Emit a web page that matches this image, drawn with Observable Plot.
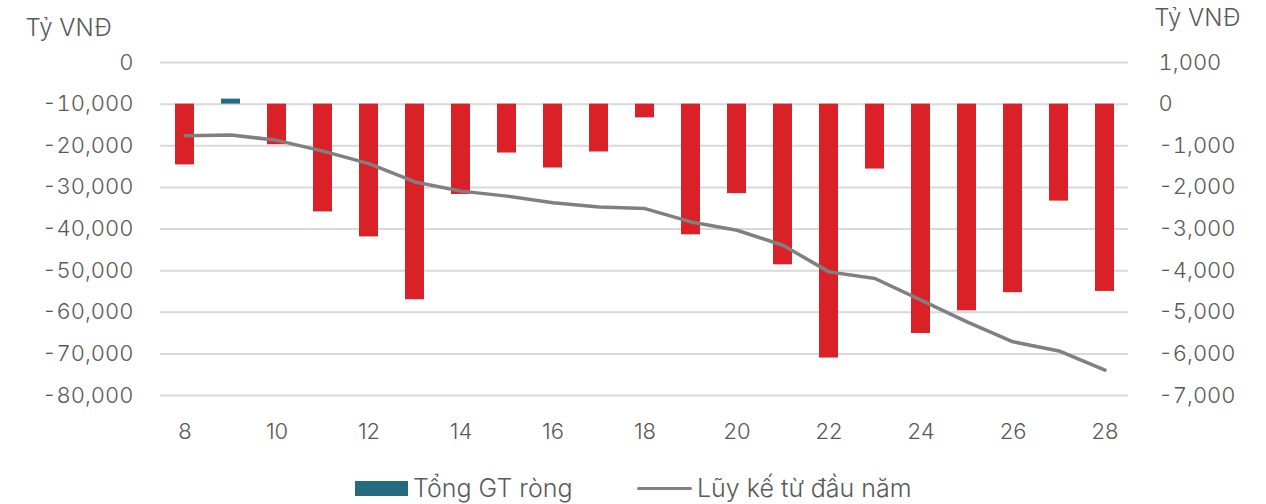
<!DOCTYPE html>
<html>
<head>
<meta charset="utf-8">
<script src="https://cdn.jsdelivr.net/npm/d3@7"></script>
<script src="https://cdn.jsdelivr.net/npm/@observablehq/plot@0.6"></script>
<style>
  html, body { margin: 0; padding: 0; background: #fff; }
  body { width: 1266px; height: 504px; overflow: hidden; font-family: Inter, "DejaVu Sans", sans-serif; font-weight: 300; color: #595959; }
  #legend { position: relative; height: 44px; width: 1266px; font-size: 25px; }
  .item { position: absolute; top: 6px; height: 44px; display: flex; align-items: center; }
  .sw-bar { width: 53px; height: 15px; background: #256b80; margin-right: 5px; }
  .sw-line { width: 55px; height: 3px; background: #808080; margin-right: 5px; border-radius: 2px; }
</style>
</head>
<body>
<div id="chart"></div>
<div id="legend">
  <div class="item" style="left:355px"><div class="sw-bar"></div><span>Tổng GT ròng</span></div>
  <div class="item" style="left:637px"><div class="sw-line"></div><span>Lũy kế từ đầu năm</span></div>
</div>
<script>
// Days of the month
const days = [8, 9, 10, 11, 12, 13, 14, 15, 16, 17, 18, 19, 20, 21, 22, 23, 24, 25, 26, 27, 28];
// Daily net value (tỷ VNĐ, right axis)
const netValues = [-1460, 120, -975, -2590, -3190, -4700, -2170, -1175, -1535, -1150, -330, -3140, -2150, -3860, -6100, -1560, -5510, -4965, -4530, -2330, -4500];
// Cumulative since start of year (tỷ VNĐ, left axis)
const cumulative = [-17580, -17400, -18700, -21300, -24300, -28700, -30900, -32100, -33700, -34700, -35100, -38300, -40300, -43900, -50300, -51900, -57100, -62300, -67100, -69300, -73900];
// Axis ticks
const rightTicks = [1000, 0, -1000, -2000, -3000, -4000, -5000, -6000, -7000];
const xTicks = [8, 10, 12, 14, 16, 18, 20, 22, 24, 26, 28];
const unitLabel = "Tỷ VNĐ";

const bars = days.map((d, i) => ({day: d, value: netValues[i]}));
// left axis value L maps onto right axis as L/10 + 1000
const line = days.map((d, i) => ({day: d, value: cumulative[i] / 10 + 1000}));

const fmt = d3.formatLocale({decimal: ".", thousands: ",", grouping: [3], currency: ["", ""], minus: "-"}).format(",");
const W = 1266, H = 460;

const chart = Plot.plot({
  width: W,
  height: H,
  marginLeft: 160,
  marginRight: 138,
  marginTop: 62,
  marginBottom: H - 395,
  style: {fontFamily: "Inter, 'DejaVu Sans', sans-serif", fontSize: "22px", color: "#595959", fontWeight: 300, overflow: "visible"},
  x: {type: "band", domain: days, paddingInner: 0.59, paddingOuter: 0.295},
  y: {domain: [-7000, 1000]},
  marks: [
    Plot.gridY(rightTicks, {stroke: "#d9d9d9", strokeOpacity: 1, strokeWidth: 2}),
    Plot.barY(bars, {x: "day", y: "value", fill: d => d.value >= 0 ? "#256b80" : "#da2128"}),
    Plot.lineY(line, {x: "day", y: "value", stroke: "#808080", strokeWidth: 3.5, strokeLinecap: "round", strokeLinejoin: "round"}),
    Plot.axisX({ticks: xTicks, tickSize: 0, tickPadding: 28, label: null, fill: "#595959"}),
    Plot.axisY({ticks: rightTicks, anchor: "left", tickSize: 0, tickPadding: 27, tickFormat: d => fmt((d - 1000) * 10), label: null, fill: "#595959"}),
    Plot.axisY({ticks: rightTicks, anchor: "right", tickSize: 0, tickPadding: 30, tickFormat: d => fmt(d), label: null, fill: "#595959", textAnchor: "start"}),
    Plot.text([unitLabel], {frameAnchor: "top-left", dx: -135, dy: -44, text: d => d, textAnchor: "start", fill: "#595959", fontSize: 24}),
    Plot.text([unitLabel], {frameAnchor: "top-right", dx: 112, dy: -54, text: d => d, textAnchor: "end", fill: "#595959", fontSize: 24})
  ]
});
document.getElementById("chart").appendChild(chart);
</script>
</body>
</html>
